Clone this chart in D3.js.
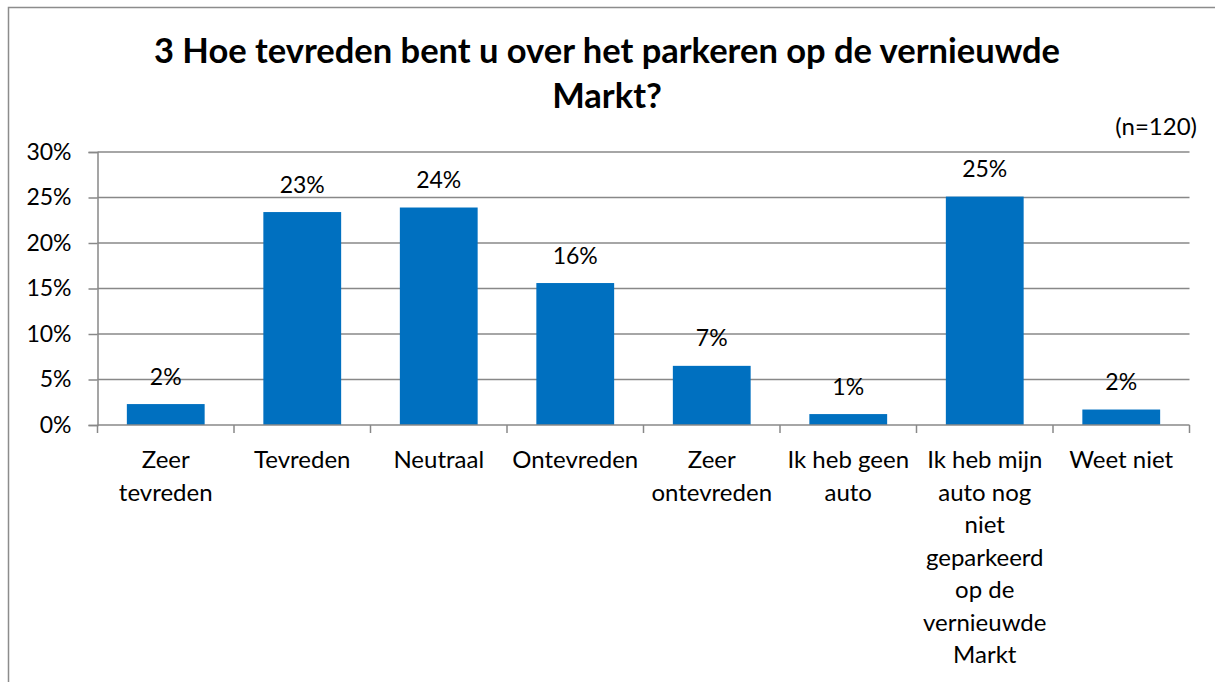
<!DOCTYPE html>
<html>
<head>
<meta charset="utf-8">
<script src="https://cdn.jsdelivr.net/npm/d3@7"></script>
<style>
  html, body { margin: 0; padding: 0; background: #fff; }
  svg { display: block; font-family: Lato, "Open Sans", sans-serif; }
</style>
</head>
<body>
<svg id="chart" width="1215" height="682"></svg>
<script>
const categories = [
  "Zeer tevreden", "Tevreden", "Neutraal", "Ontevreden",
  "Zeer ontevreden", "Ik heb geen auto",
  "Ik heb mijn auto nog niet geparkeerd op de vernieuwde Markt", "Weet niet"
];
const categoryLines = [
  ["Zeer", "tevreden"], ["Tevreden"], ["Neutraal"], ["Ontevreden"],
  ["Zeer", "ontevreden"], ["Ik heb geen", "auto"],
  ["Ik heb mijn", "auto nog", "niet", "geparkeerd", "op de", "vernieuwde", "Markt"],
  ["Weet niet"]
];
const values = [2.3, 23.4, 23.9, 15.6, 6.5, 1.2, 25.1, 1.7];
const valueLabels = ["2%", "23%", "24%", "16%", "7%", "1%", "25%", "2%"];
const yTicks = [0, 5, 10, 15, 20, 25, 30];
const titleLines = ["3 Hoe tevreden bent u over het parkeren op de vernieuwde", "Markt?"];
const noteText = "(n=120)";

const svg = d3.select("#chart");
const gridColor = "#888888";

// outer chart border
svg.append("rect")
  .attr("x", 8.5).attr("y", 7.5)
  .attr("width", 1230).attr("height", 700)
  .attr("fill", "none").attr("stroke", "#8c8c8c").attr("stroke-width", 1.5);

const x = d3.scaleBand()
  .domain(categories)
  .range([97.5, 1189.5])
  .paddingInner(0.43)
  .paddingOuter(0.215);

const y = d3.scaleLinear().domain([0, 30]).range([425, 152]);

// gridlines
svg.append("g")
  .selectAll("line")
  .data(yTicks.filter(d => d > 0))
  .join("line")
  .attr("x1", 97.5).attr("x2", 1189.5)
  .attr("y1", d => y(d)).attr("y2", d => y(d))
  .attr("stroke", gridColor).attr("stroke-width", 1.5);

// bars
svg.append("g")
  .selectAll("rect")
  .data(values)
  .join("rect")
  .attr("x", (d, i) => x(categories[i]))
  .attr("width", x.bandwidth())
  .attr("y", d => y(d))
  .attr("height", d => y(0) - y(d))
  .attr("fill", "#0070C0");

// y axis
const yAxis = d3.axisLeft(y)
  .tickValues(yTicks)
  .tickSize(9)
  .tickPadding(17)
  .tickFormat(d => d + "%");
const yg = svg.append("g").attr("transform", "translate(97.5,0)").call(yAxis);
yg.select(".domain").attr("stroke", gridColor).attr("stroke-width", 1.5);
yg.selectAll(".tick line").attr("stroke", gridColor).attr("stroke-width", 1.5);
yg.selectAll(".tick text")
  .attr("font-size", 23).attr("fill", "#000")
  .attr("font-family", "Lato, 'Open Sans', sans-serif");

// x axis baseline and category ticks
const xg = svg.append("g");
xg.append("line")
  .attr("x1", 97.5).attr("x2", 1189.5)
  .attr("y1", y(0)).attr("y2", y(0))
  .attr("stroke", gridColor).attr("stroke-width", 1.5);
const step = x.step();
const boundaries = d3.range(categories.length + 1).map(i => 97.5 + i * step);
xg.selectAll("line.b")
  .data(boundaries)
  .join("line")
  .attr("class", "b")
  .attr("x1", d => d).attr("x2", d => d)
  .attr("y1", y(0)).attr("y2", y(0) + 8)
  .attr("stroke", gridColor).attr("stroke-width", 1.5);

// category labels
const catG = svg.append("g");
categoryLines.forEach((lines, i) => {
  const cx = x(categories[i]) + x.bandwidth() / 2;
  const t = catG.append("text")
    .attr("text-anchor", "middle")
    .attr("font-size", 24)
    .attr("fill", "#000");
  lines.forEach((ln, j) => {
    t.append("tspan").attr("x", cx).attr("y", 468 + j * 32.5).text(ln);
  });
});

// value labels
svg.append("g")
  .selectAll("text")
  .data(values)
  .join("text")
  .attr("x", (d, i) => x(categories[i]) + x.bandwidth() / 2)
  .attr("y", d => y(d) - 19.5)
  .attr("text-anchor", "middle")
  .attr("font-size", 23)
  .attr("fill", "#000")
  .text((d, i) => valueLabels[i]);

// title
const title = svg.append("text")
  .attr("text-anchor", "middle")
  .attr("font-size", 34.5)
  .attr("font-weight", "bold")
  .attr("fill", "#000");
titleLines.forEach((ln, j) => {
  title.append("tspan").attr("x", 607).attr("y", 63 + j * 45).text(ln);
});

// note
svg.append("text")
  .attr("x", 1197).attr("y", 135)
  .attr("text-anchor", "end")
  .attr("font-size", 24)
  .attr("fill", "#000")
  .text(noteText);
</script>
</body>
</html>
